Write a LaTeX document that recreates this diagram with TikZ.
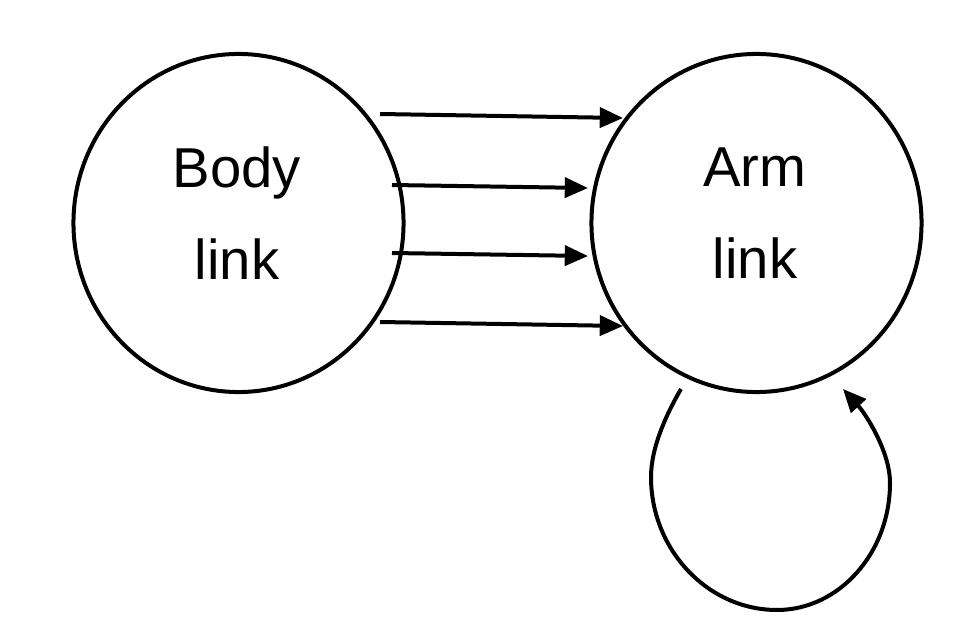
\documentclass[tikz,border=0pt]{standalone}
\usepackage{fontspec}
\setmainfont{Liberation Sans}
\usetikzlibrary{arrows.meta,shapes.geometric}

\begin{document}
\begin{tikzpicture}[x=0.025cm, y=-0.025cm,
	link/.style = {draw, ellipse, line width=0.1cm, inner sep=0pt, minimum width=8.25cm, minimum height=8.45cm},
	linktext/.style = {align=center, font=\fontsize{40}{65.5}\selectfont},
	flow/.style = {line width=0.1cm, -{Triangle[length=0.58cm, width=0.5cm]}}]
		\useasboundingbox (0,0) rectangle (976,630);
		
		\node[link] (body) at (238.5,223) {};
		\node[link] (arm) at (756.5,223) {};
		\node[linktext] (bodytext) at (237,213) {Body\\link};
		\node[linktext] (armtext) at (755,213) {Arm\\link};
		
		\foreach \xs/\ys/\xe/\ye [count=\i] in {380/114/623/118, 392/185/588/188, 392/253/588/256, 380/322/623/326}{
			\coordinate (s\i) at (\xs,\ys);
			\coordinate (e\i) at (\xe,\ye);
			\draw[flow] (s\i) -- (e\i);
		}
		
		\coordinate (loopout) at (681,389);
		\coordinate (loopin) at (843,389);
		\draw[flow] (loopout) .. controls (667,413) and (651,447) .. (651,477)
			.. controls (651,550) and (708,610) .. (777,610)
			.. controls (839,610) and (890,553) .. (890,483)
			.. controls (890,450) and (864,412) .. (loopin);
\end{tikzpicture}
\end{document}
